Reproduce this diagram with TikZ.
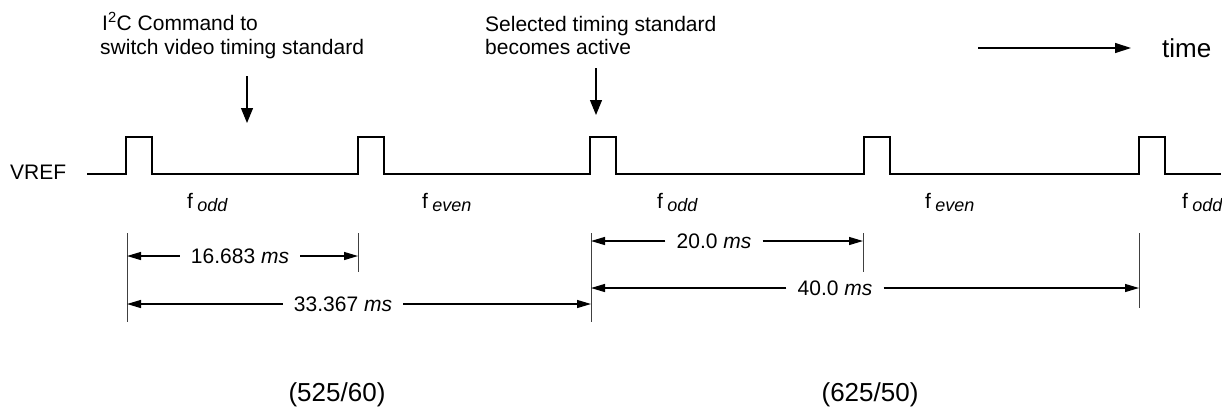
\documentclass[tikz,border=0pt]{standalone}
\usepackage{fontspec}
\setmainfont{Liberation Sans}
\usetikzlibrary{arrows.meta}
\newcommand{\fsub}[1]{f\hspace{4.4pt}\raisebox{-3pt}{\fontsize{18}{20}\selectfont\itshape #1}}
\begin{document}
\begin{tikzpicture}[x=1pt,y=-1pt,
  txt/.style={inner sep=0pt, font=\fontsize{21}{25}\selectfont},
  bigtxt/.style={inner sep=0pt, font=\fontsize{26}{30}\selectfont},
  wave/.style={line width=2.4pt, line join=miter},
  tickline/.style={line width=0.9pt, black!75},
  dim/.style={line width=1.2pt, -{Triangle[length=14pt,width=8pt]}},
  dimlbl/.style={inner xsep=11pt, inner ysep=0pt, font=\fontsize{21}{25}\selectfont},
  ptr/.style={line width=1.2pt, -{Triangle[length=15pt,width=12pt]}},
]
\useasboundingbox (0,0) rectangle (1222,408);

% top annotations
\node[txt, anchor=base west] (cmd1) at (102,30) {I\textsuperscript{2}C Command to};
\node[txt, anchor=base west] (cmd2) at (100,54) {switch video timing standard};
\node[txt, anchor=base west] (sel1) at (485,31) {Selected timing standard};
\node[txt, anchor=base west] (sel2) at (485,54) {becomes active};
\node[bigtxt, anchor=base west] (time) at (1162,57) {time};

\coordinate (p1s) at (247,76);  \coordinate (p1e) at (247,123);
\coordinate (p2s) at (596,68);  \coordinate (p2e) at (596,115);
\coordinate (ts) at (978,48);   \coordinate (te) at (1131,48);
\draw[ptr] (p1s) -- (p1e);
\draw[ptr] (p2s) -- (p2e);
\draw[line width=1.2pt, -{Triangle[length=16pt,width=10pt]}] (ts) -- (te);

% waveform
\node[txt, anchor=base west] (vref) at (10,179) {VREF};
\draw[wave] (87,174)
  -- (126,174) -- (126,137) -- (152,137) -- (152,174)
  -- (358,174) -- (358,137) -- (384,137) -- (384,174)
  -- (590,174) -- (590,137) -- (616,137) -- (616,174)
  -- (864,174) -- (864,137) -- (890,137) -- (890,174)
  -- (1139,174) -- (1139,137) -- (1165,137) -- (1165,174)
  -- (1221,174);

% field labels
\node[txt, anchor=base west] (f1) at (187,208) {\fsub{odd}};
\node[txt, anchor=base west] (f2) at (422,208) {\fsub{even}};
\node[txt, anchor=base west] (f3) at (657,208) {\fsub{odd}};
\node[txt, anchor=base west] (f4) at (925,208) {\fsub{even}};
\node[txt, anchor=base west] (f5) at (1182,208) {\fsub{odd}};

% ticks
\draw[tickline] (127,233) -- (127,322);
\draw[tickline] (358,233) -- (358,272);
\draw[tickline] (591,233) -- (591,322);
\draw[tickline] (863,233) -- (863,272);
\draw[tickline] (1139,233) -- (1139,308);

% dimension arrows
\coordinate (a1l) at (127,256); \coordinate (a1r) at (358,256);
\node[dimlbl] (d1) at (240,256) {16.683 \textit{ms}};
\draw[dim] (d1) -- (a1l);
\draw[dim] (d1) -- (a1r);

\coordinate (a2l) at (127,304); \coordinate (a2r) at (591,304);
\node[dimlbl] (d2) at (343,304) {33.367 \textit{ms}};
\draw[dim] (d2) -- (a2l);
\draw[dim] (d2) -- (a2r);

\coordinate (a3l) at (591,241); \coordinate (a3r) at (863,241);
\node[dimlbl] (d3) at (714,241) {20.0 \textit{ms}};
\draw[dim] (d3) -- (a3l);
\draw[dim] (d3) -- (a3r);

\coordinate (a4l) at (591,288); \coordinate (a4r) at (1139,288);
\node[dimlbl] (d4) at (835,288) {40.0 \textit{ms}};
\draw[dim] (d4) -- (a4l);
\draw[dim] (d4) -- (a4r);

% standards
\node[bigtxt, anchor=base] (s1) at (337,401) {(525/60)};
\node[bigtxt, anchor=base] (s2) at (870,401) {(625/50)};
\end{tikzpicture}
\end{document}
